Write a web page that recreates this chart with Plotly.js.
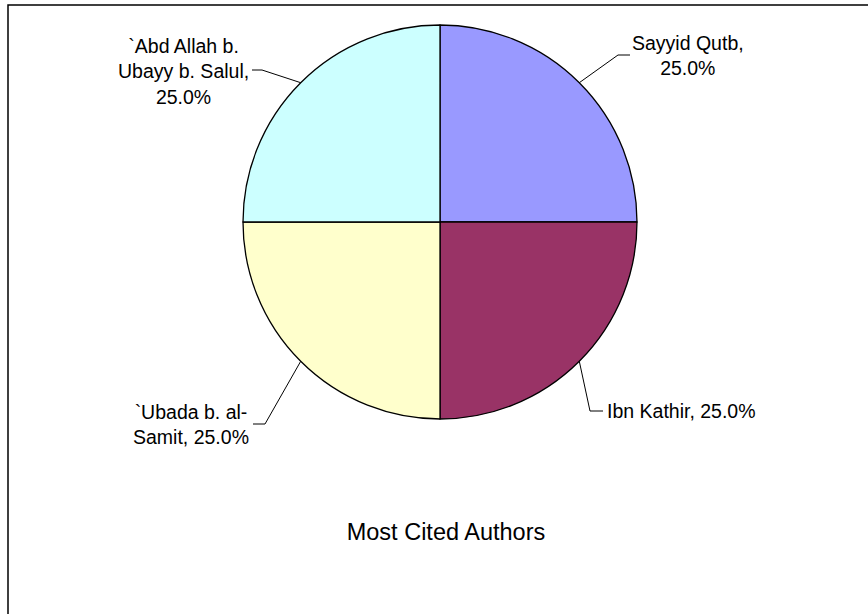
<!DOCTYPE html>
<html>
<head>
<meta charset="utf-8">
<script src="https://cdn.plot.ly/plotly-3.0.1.min.js"></script>
<style>
html,body{margin:0;padding:0;background:#fff;}
#chart{width:868px;height:614px;}
</style>
</head>
<body>
<div id="chart"></div>
<script>
// ---- data ----
const authors = ["Sayyid Qutb", "Ibn Kathir", "`Ubada b. al-Samit", "`Abd Allah b. Ubayy b. Salul"];
const citations = [1, 1, 1, 1];
const sliceColors = ["#9999FF", "#993366", "#FFFFCC", "#CCFFFF"];
const labelTexts = [
  "Sayyid Qutb,<br>25.0%",
  "Ibn Kathir, 25.0%",
  "`Ubada b. al-<br>Samit, 25.0%",
  "`Abd Allah b.<br>Ubayy b. Salul,<br>25.0%"
];
const chartTitle = "Most Cited Authors";

// ---- layout geometry (pixels) ----
const W = 868, H = 614;
const cx = 440, cy = 222, R = 197;
const px = x => x / W;
const py = y => 1 - y / H;

// label placement: elbow point, end of leader, text anchor
const labelGeom = [
  {elbow:[618,55], end:[630,55], text:[688,55], xa:"center"},
  {elbow:[590,411], end:[603,411], text:[605,411], xa:"left"},
  {elbow:[265,424], end:[253,424], text:[191,424], xa:"center"},
  {elbow:[262,70], end:[252,70], text:[183,71], xa:"center"}
];

const total = citations.reduce((a,b)=>a+b,0);
let cum = 0;
const shapes = [];
const annotations = [];
citations.forEach((v,i)=>{
  const mid = (cum + v/2) / total * 2*Math.PI; // clockwise from 12 o'clock
  cum += v;
  const sx = cx + R*Math.sin(mid), sy = cy - R*Math.cos(mid);
  const g = labelGeom[i];
  shapes.push({
    type:"path", xref:"paper", yref:"paper",
    path:`M ${px(sx)} ${py(sy)} L ${px(g.elbow[0])} ${py(g.elbow[1])} L ${px(g.end[0])} ${py(g.end[1])}`,
    line:{color:"#000", width:1}
  });
  annotations.push({
    xref:"paper", yref:"paper", x:px(g.text[0]), y:py(g.text[1]),
    xanchor:g.xa, yanchor:"middle", align:"center", showarrow:false,
    text:labelTexts[i],
    font:{family:"Liberation Sans, Arial, sans-serif", size:19.5, color:"#000"}
  });
});

// frame (only left and top edges fall inside the picture)
shapes.push({type:"path", xref:"paper", yref:"paper",
  path:`M ${px(8)} ${py(640)} L ${px(8)} ${py(5)} L ${px(900)} ${py(5)}`,
  line:{color:"#000", width:1.5}, layer:"above"});

const trace = {
  type:"pie",
  labels:authors,
  values:citations,
  sort:false,
  direction:"clockwise",
  rotation:0,
  textinfo:"none",
  hoverinfo:"label+percent",
  marker:{colors:sliceColors, line:{color:"#000", width:1.3}},
  domain:{x:[px(cx-R), px(cx+R)], y:[py(cy+R), py(cy-R)]},
  showlegend:false
};

const layout = {
  width:W, height:H,
  margin:{l:0,r:0,t:0,b:0},
  paper_bgcolor:"#fff",
  plot_bgcolor:"#fff",
  showlegend:false,
  title:{text:chartTitle, x:px(446), y:py(532), xref:"paper", yref:"paper",
    xanchor:"center", yanchor:"middle",
    font:{family:"Liberation Sans, Arial, sans-serif", size:23.5, color:"#000"}},
  shapes:shapes,
  annotations:annotations
};

Plotly.newPlot("chart", [trace], layout, {displayModeBar:false, staticPlot:true});
</script>
</body>
</html>
